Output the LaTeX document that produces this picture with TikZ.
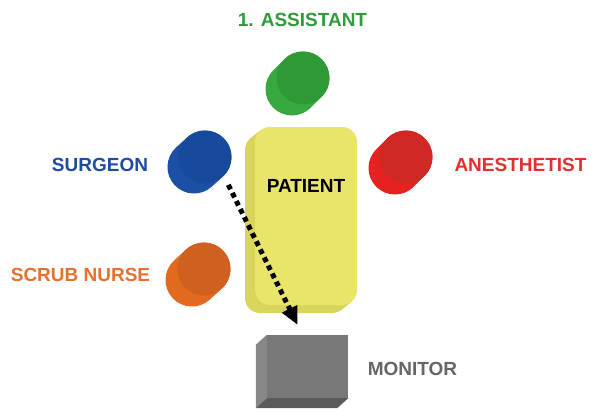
\documentclass[tikz,border=0pt]{standalone}
\usepackage{fontspec}
\setmainfont{Liberation Sans}
\usetikzlibrary{arrows.meta}

\definecolor{asstfront}{HTML}{2E9A36}
\definecolor{asstside}{HTML}{38A93E}
\definecolor{asstlabel}{HTML}{2F9B3A}
\definecolor{surgfront}{HTML}{174A9A}
\definecolor{surgside}{HTML}{1C50A6}
\definecolor{surglabel}{HTML}{1F4C9E}
\definecolor{anesfront}{HTML}{D02825}
\definecolor{anesside}{HTML}{E52220}
\definecolor{aneslabel}{HTML}{E3302D}
\definecolor{scrubfront}{HTML}{CF6020}
\definecolor{scrubside}{HTML}{E26A1E}
\definecolor{scrublabel}{HTML}{E8702E}
\definecolor{bedfront}{HTML}{E9E56A}
\definecolor{bedside}{HTML}{D9D55A}
\definecolor{monfront}{HTML}{787878}
\definecolor{monleft}{HTML}{878787}
\definecolor{monbottom}{HTML}{5A5A5A}
\definecolor{monlabel}{HTML}{666666}

\begin{document}
\begin{tikzpicture}[x=1pt, y=-1pt,
      role/.style={font=\bfseries\fontsize{19}{22}\selectfont, inner sep=0pt},
      seat/.style={circle, minimum size=53pt, inner sep=0pt},
      side/.style={line width=53pt, line cap=round},
      >={Triangle[length=18pt, width=16pt]}
    ]
    \useasboundingbox (0,0) rectangle (600,416);

    \foreach \i in {10,...,1}
      \fill[bedside, rounded corners=15pt] (255-\i,127+0.8*\i) rectangle (357-\i,305+0.8*\i);
    \node[fill=bedfront, rounded corners=15pt, minimum width=102pt, minimum height=178pt, inner sep=0pt] (patient) at (306,216) {};
    \node[role] (patientlbl) at (306,186) {PATIENT};

    \draw[side, asstside] (292,89) -- (303,78);
    \node[seat, fill=asstfront] (asst) at (303,78) {};
    \draw[side, surgside] (194,167) -- (205,157);
    \node[seat, fill=surgfront] (surgeon) at (205,157) {};
    \draw[side, anesside] (395,168) -- (406,157);
    \node[seat, fill=anesfront] (anes) at (406,157) {};
    \draw[side, scrubside] (192,280) -- (204,269);
    \node[seat, fill=scrubfront] (scrub) at (204,269) {};

    \node[fill=monfront, minimum width=81pt, minimum height=63pt, inner sep=0pt] (monitor) at (307.5,366.5) {};
    \fill[monleft] (monitor.north west) -- ++(-11,10) -- ([shift={(-11,10)}]monitor.south west) -- (monitor.south west) -- cycle;
    \fill[monbottom] (monitor.south west) -- ([shift={(-11,10)}]monitor.south west) -- ([shift={(-11,10)}]monitor.south east) -- (monitor.south east) -- cycle;

    \node[role, text=asstlabel] (asstlbl) at (302.5,20) {1. ASSISTANT};
    \node[role, text=surglabel] (surglbl) at (100,164.5) {SURGEON};
    \node[role, text=aneslabel] (aneslbl) at (520.5,164.5) {ANESTHETIST};
    \node[role, text=scrublabel] (scrublbl) at (80.5,274.5) {SCRUB NURSE};
    \node[role, text=monlabel] (monlbl) at (412.5,368.5) {MONITOR};

    \draw[->, line width=5pt, dash pattern=on 5pt off 4pt, shorten <=10pt, shorten >=11pt] (surgeon.south east) -- ([xshift=-5pt]monitor.north);
  \end{tikzpicture}
\end{document}
